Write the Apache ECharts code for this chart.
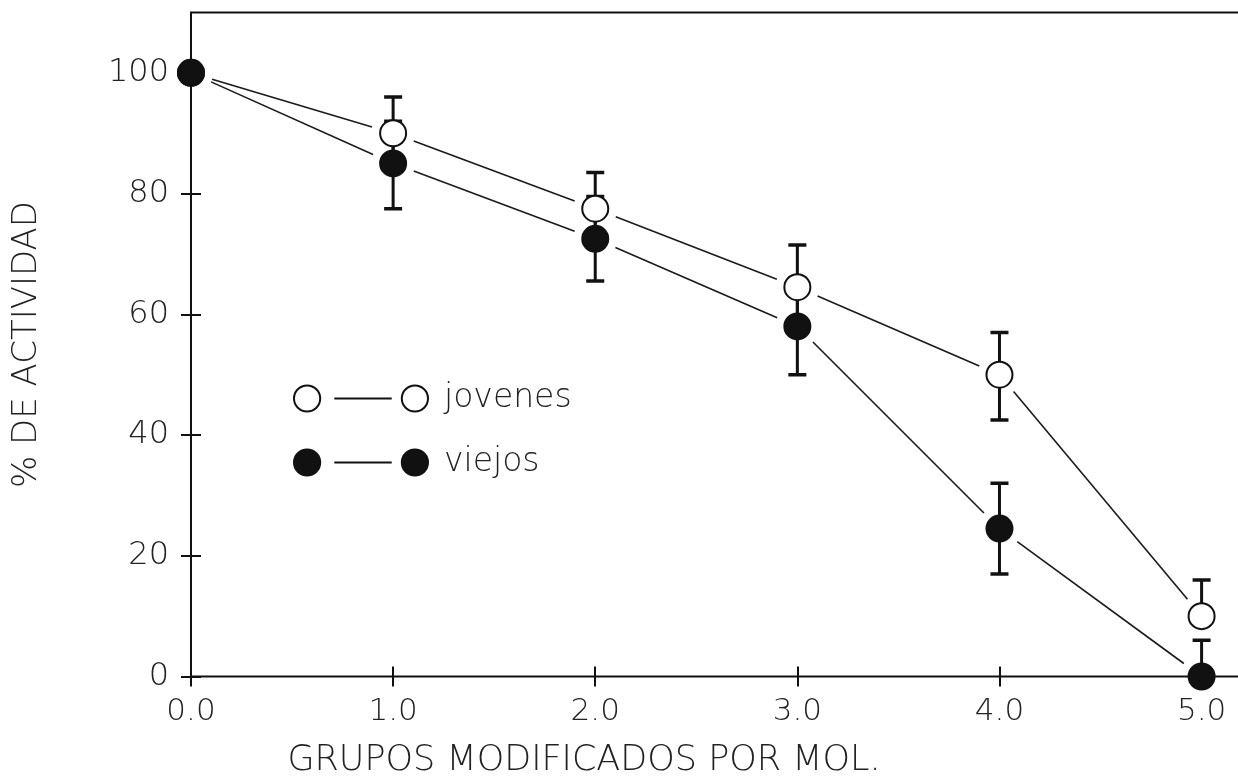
<!DOCTYPE html>
<html>
<head>
<meta charset="utf-8">
<title>% de actividad frente a grupos modificados por mol</title>
<script src="https://cdn.jsdelivr.net/npm/echarts@6/dist/echarts.min.js"></script>
<style>
  html, body { margin: 0; padding: 0; background: #ffffff; }
  #chart { width: 1238px; height: 781px; }
</style>
</head>
<body>
<div id="chart"></div>
<script>
// Grupos modificados por mol (eje X)
const grupos = [0, 1, 2, 3, 4, 5];

// Marcas de los ejes
const xTicks = [0, 1, 2, 3, 4, 5];
const yTicks = [0, 20, 40, 60, 80, 100];

// % de actividad, animales jóvenes
const jovenes = [100, 90, 77.5, 64.5, 50, 10];
const jovenesErrUp = [0, 6, 6, 7, 7, 6];
const jovenesErrDown = [0, 6, 6, 7, 7.5, 0];

// % de actividad, animales viejos
const viejos = [100, 85, 72.5, 58, 24.5, 0];
const viejosErrUp = [0, 7, 7, 8, 7.5, 6];
const viejosErrDown = [0, 7.5, 7, 8, 7.5, 6];

const FONT = '"DejaVu Sans", "Liberation Sans", sans-serif';
const WEIGHT = 200;
const INK = '#111111';
const TEXT = '#222222';

function points(vals) {
  return grupos.map((g, i) => [g, vals[i]]);
}
function segments(vals) {
  const out = [];
  for (let i = 1; i < grupos.length; i++) {
    out.push([grupos[i - 1], vals[i - 1], grupos[i], vals[i]]);
  }
  return out;
}
function errorBars(vals, up, down) {
  return grupos.map((g, i) => [g, vals[i], vals[i] - down[i], vals[i] + up[i]]);
}

// Connecting lines stop short of each marker
const GAP = 22;
function renderSegment(params, api) {
  const a = api.coord([api.value(0), api.value(1)]);
  const b = api.coord([api.value(2), api.value(3)]);
  const dx = b[0] - a[0], dy = b[1] - a[1];
  const len = Math.hypot(dx, dy);
  if (len <= 2 * GAP) return null;
  const ux = dx / len, uy = dy / len;
  return {
    type: 'line',
    shape: { x1: a[0] + ux * GAP, y1: a[1] + uy * GAP, x2: b[0] - ux * GAP, y2: b[1] - uy * GAP },
    style: { stroke: '#1a1a1a', lineWidth: 1.6 }
  };
}

// Vertical error bar with flat caps
const CAP = 9;
function renderErrorBar(params, api) {
  const x = api.value(0), mid = api.value(1), lo = api.value(2), hi = api.value(3);
  const pm = api.coord([x, mid]);
  const stem = { stroke: INK, lineWidth: 3 };
  const cap = { stroke: INK, lineWidth: 3.5 };
  const children = [];
  if (hi > mid) {
    const p = api.coord([x, hi]);
    children.push({ type: 'line', shape: { x1: p[0], y1: p[1], x2: pm[0], y2: pm[1] }, style: stem });
    children.push({ type: 'line', shape: { x1: p[0] - CAP, y1: p[1], x2: p[0] + CAP, y2: p[1] }, style: cap });
  }
  if (lo < mid) {
    const p = api.coord([x, lo]);
    children.push({ type: 'line', shape: { x1: pm[0], y1: pm[1], x2: p[0], y2: p[1] }, style: stem });
    children.push({ type: 'line', shape: { x1: p[0] - CAP, y1: p[1], x2: p[0] + CAP, y2: p[1] }, style: cap });
  }
  return { type: 'group', children };
}

// Legend key: circle — line — circle
const KEY_ICON = 'path://M1,14A13,13,0,1,1,27,14A13,13,0,1,1,1,14Z' +
  'M41,14L98,14' +
  'M108,14A13,13,0,1,1,134,14A13,13,0,1,1,108,14Z';

const X_MAX = 5.19;
const Y_MAX = 110;
// Ticks cross the frame: the axes sit TICK px inside it and draw 2*TICK long ticks outward
const TICK = 10;

const tickStyle = { color: INK, width: 2 };

const chart = echarts.init(document.getElementById('chart'), null, { renderer: 'canvas' });

chart.setOption({
  animation: false,
  backgroundColor: '#ffffff',
  grid: {
    left: 191, right: -2, top: 12.5, bottom: 104.5,
    show: true, borderColor: INK, borderWidth: 2, backgroundColor: 'transparent',
    containLabel: false, outerBoundsMode: 'none'
  },
  legend: {
    show: true,
    orient: 'vertical',
    left: 288,
    top: 377,
    itemWidth: 134,
    itemHeight: 28,
    itemGap: 31,
    selectedMode: false,
    textStyle: { fontFamily: FONT, fontWeight: WEIGHT, fontSize: 33, color: TEXT, lineHeight: 28, padding: [0, 0, 0, 11] },
    data: [
      { name: 'jovenes', icon: KEY_ICON, itemStyle: { color: '#ffffff', borderColor: INK, borderWidth: 2 } },
      { name: 'viejos', icon: KEY_ICON, itemStyle: { color: INK, borderColor: INK, borderWidth: 2 } }
    ]
  },
  xAxis: [
    {
      type: 'value', min: 0, max: X_MAX, position: 'bottom', offset: -TICK,
      axisLine: { show: false, onZero: false },
      axisTick: { show: true, inside: false, length: 2 * TICK, customValues: xTicks, lineStyle: tickStyle },
      axisLabel: {
        show: true, customValues: xTicks, margin: 20 + TICK,
        formatter: v => v.toFixed(1),
        fontFamily: FONT, fontWeight: WEIGHT, fontSize: 31, color: TEXT
      },
      splitLine: { show: false },
      name: 'GRUPOS MODIFICADOS POR MOL.',
      nameLocation: 'middle',
      nameGap: 67 + TICK,
      nameTextStyle: { fontFamily: FONT, fontWeight: WEIGHT, fontSize: 35, color: TEXT, padding: [0, 263, 0, 0] }
    }
  ],
  yAxis: [
    {
      type: 'value', min: 0, max: Y_MAX, position: 'left', offset: -TICK,
      axisLine: { show: false, onZero: false },
      axisTick: { show: true, inside: false, length: 2 * TICK, customValues: yTicks, lineStyle: tickStyle },
      axisLabel: {
        show: true, customValues: yTicks, margin: 22 + TICK,
        fontFamily: FONT, fontWeight: WEIGHT, fontSize: 32, color: TEXT
      },
      splitLine: { show: false },
      name: '% DE ACTIVIDAD',
      nameLocation: 'middle',
      nameRotate: 90,
      nameGap: 147 + TICK,
      nameTextStyle: { fontFamily: FONT, fontWeight: WEIGHT, fontSize: 34, color: TEXT }
    }
  ],
  series: [
    {
      name: 'jovenes-linea', type: 'custom',
      renderItem: renderSegment, data: segments(jovenes),
      encode: { x: [0, 2], y: [1, 3] }, z: 2, clip: true, silent: true
    },
    {
      name: 'viejos-linea', type: 'custom',
      renderItem: renderSegment, data: segments(viejos),
      encode: { x: [0, 2], y: [1, 3] }, z: 2, clip: true, silent: true
    },
    {
      name: 'jovenes-error', type: 'custom',
      renderItem: renderErrorBar, data: errorBars(jovenes, jovenesErrUp, jovenesErrDown),
      encode: { x: 0, y: [1, 2, 3] }, z: 3, clip: true, silent: true
    },
    {
      name: 'viejos-error', type: 'custom',
      renderItem: renderErrorBar, data: errorBars(viejos, viejosErrUp, viejosErrDown),
      encode: { x: 0, y: [1, 2, 3] }, z: 3, clip: true, silent: true
    },
    {
      name: 'jovenes', type: 'scatter',
      data: points(jovenes), symbol: 'circle', symbolSize: 26,
      itemStyle: { color: '#ffffff', borderColor: INK, borderWidth: 2, opacity: 1 },
      z: 5, clip: false, silent: true
    },
    {
      name: 'viejos', type: 'scatter',
      data: points(viejos), symbol: 'circle', symbolSize: 26,
      itemStyle: { color: INK, borderColor: INK, borderWidth: 2, opacity: 1 },
      z: 6, clip: false, silent: true
    }
  ]
});
</script>
</body>
</html>
